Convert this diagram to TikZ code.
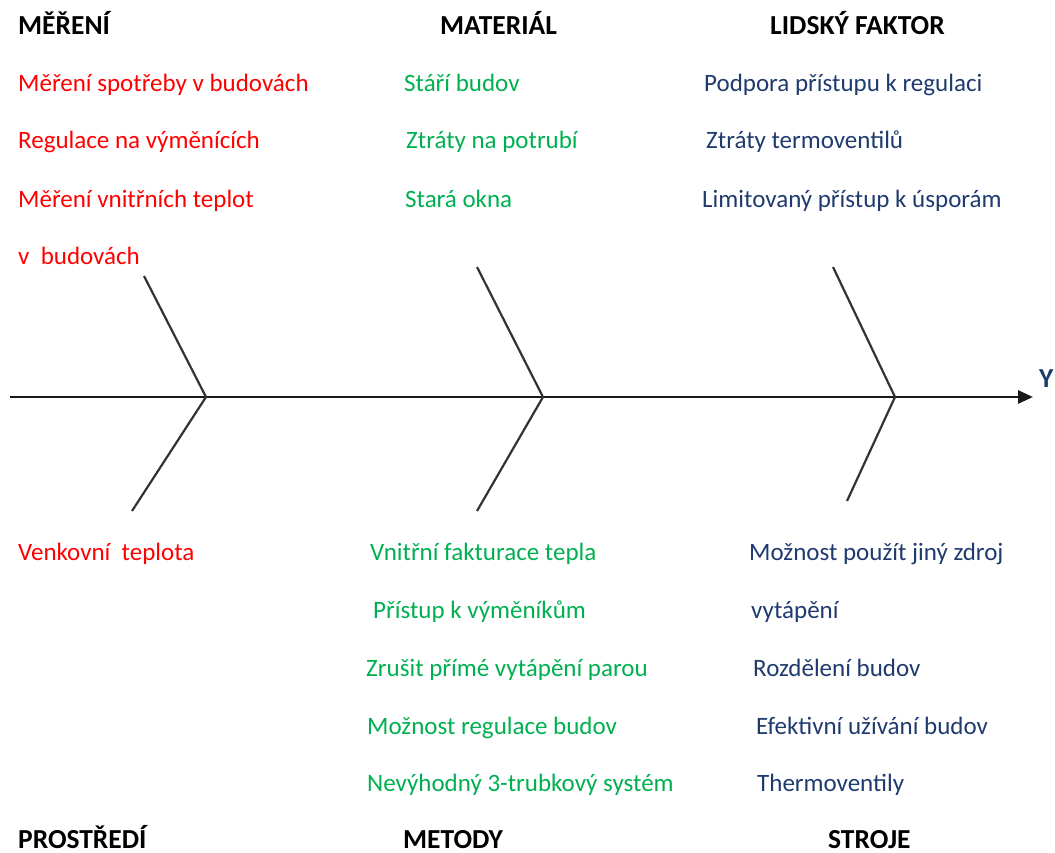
\documentclass[tikz,border=0pt]{standalone}
\usepackage{fontspec}
\setmainfont{Carlito}
\usetikzlibrary{arrows.meta}
\definecolor{cred}{HTML}{FF0000}
\definecolor{cgreen}{HTML}{00B050}
\definecolor{cblue}{HTML}{1F3A6E}
\tikzset{
  item/.style={anchor=base west, inner sep=0pt, font=\fontsize{25}{30}\selectfont},
  redt/.style={item, text=cred},
  greent/.style={item, text=cgreen},
  bluet/.style={item, text=cblue},
  head/.style={anchor=base west, inner sep=0pt, font=\fontsize{27.5}{32}\selectfont\bfseries, text=black},
  bone/.style={line width=2.2pt, draw=black!80},
  spine/.style={line width=2.8pt, draw=black!90}
}
\begin{document}
\begin{tikzpicture}[x=1pt,y=-1pt]
\useasboundingbox (0,0) rectangle (1055,853);
% headers
\node[head] (hm) at (18,35) {MĚŘENÍ};
\node[head] (hmat) at (440,35) {MATERIÁL};
\node[head] (hl) at (770,35) {LIDSKÝ FAKTOR};
\node[head] (hp) at (18,848) {PROSTŘEDÍ};
\node[head] (hmet) at (403,848) {METODY};
\node[head] (hs) at (828,848) {STROJE};
% top left
\node[redt] (a1) at (18,92) {Měření spotřeby v budovách};
\node[redt] (a2) at (18,149) {Regulace na výměnících};
\node[redt] (a3) at (18,208) {Měření vnitřních teplot};
\node[redt] (a4) at (18,265) {v\ \ budovách};
% top middle
\node[greent] (b1) at (404,92) {Stáří budov};
\node[greent] (b2) at (406,149) {Ztráty na potrubí};
\node[greent] (b3) at (405,208) {Stará okna};
% top right
\node[bluet] (c1) at (704,92) {Podpora přístupu k regulaci};
\node[bluet] (c2) at (706,149) {Ztráty termoventilů};
\node[bluet] (c3) at (702,208) {Limitovaný přístup k úsporám};
% bottom left
\node[redt] (d1) at (18,560) {Venkovní\ \ teplota};
% bottom middle
\node[greent] (e1) at (370,560) {Vnitřní fakturace tepla};
\node[greent] (e2) at (373,618) {Přístup k výměníkům};
\node[greent] (e3) at (366,676) {Zrušit přímé vytápění parou};
\node[greent] (e4) at (367,734) {Možnost regulace budov};
\node[greent] (e5) at (367,791) {Nevýhodný 3-trubkový systém};
% bottom right
\node[bluet] (f1) at (749,560) {Možnost použít jiný zdroj};
\node[bluet] (f2) at (751,618) {vytápění};
\node[bluet] (f3) at (753,676) {Rozdělení budov};
\node[bluet] (f4) at (756,734) {Efektivní užívání budov};
\node[bluet] (f5) at (757,791) {Thermoventily};
% spine
\coordinate (s0) at (10,397);
\coordinate (tip) at (1033,397);
\coordinate (j1) at (206,397);
\coordinate (j2) at (543,397);
\coordinate (j3) at (895,397);
\coordinate (u1) at (144,276);
\coordinate (l1) at (132,511);
\coordinate (u2) at (477,267);
\coordinate (l2) at (477,511);
\coordinate (u3) at (833,267);
\coordinate (l3) at (847,501);
\draw[spine, -{Triangle[length=15pt,width=13pt]}] (s0) -- (tip);
\draw[bone] (u1) -- (j1) -- (l1);
\draw[bone] (u2) -- (j2) -- (l2);
\draw[bone] (u3) -- (j3) -- (l3);
\node[head, text=cblue] (y) at (1039,387) {Y};
\end{tikzpicture}
\end{document}
